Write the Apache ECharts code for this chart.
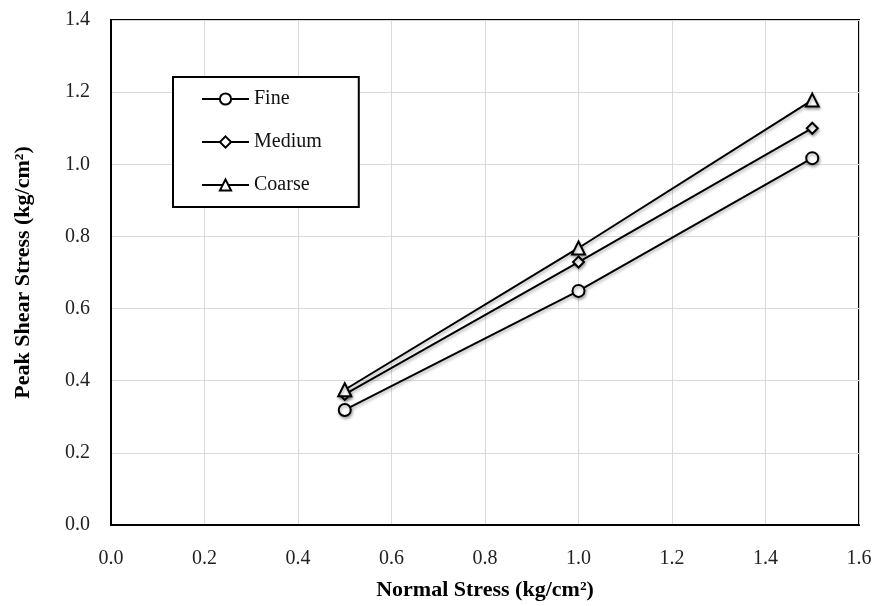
<!DOCTYPE html>
<html>
<head>
<meta charset="utf-8">
<script src="https://cdn.jsdelivr.net/npm/echarts@6/dist/echarts.min.js"></script>
<style>
  html, body { margin: 0; padding: 0; background: #fff; }
  #main { width: 875px; height: 606px; }
</style>
</head>
<body>
<div id="main"></div>
<script>
// data
const normalStress = [0.5, 1.0, 1.5];
const fine = [0.319, 0.649, 1.017];
const medium = [0.362, 0.729, 1.10];
const coarse = [0.375, 0.768, 1.178];

const FONT = 'Liberation Serif';

function pairs(ys) {
  return normalStress.map((x, i) => [x, ys[i]]);
}

function lineSeries(name, symbol, ys) {
  return {
    name: name,
    type: 'line',
    data: pairs(ys),
    symbol: symbol,
    symbolSize: symbol === 'triangle' ? 13 : (symbol === 'diamond' ? 11 : 12),
    lineStyle: {
      color: '#000', width: 2,
      shadowColor: 'rgba(0,0,0,0.3)', shadowBlur: 3, shadowOffsetX: 1, shadowOffsetY: 2
    },
    itemStyle: {
      color: '#fff', borderColor: '#000', borderWidth: 2,
      shadowColor: 'rgba(0,0,0,0.3)', shadowBlur: 3, shadowOffsetX: 1, shadowOffsetY: 2
    }
  };
}

const option = {
  animation: false,
  backgroundColor: '#fff',
  textStyle: { fontFamily: FONT },
  grid: {
    left: 111, right: 16, top: 20, bottom: 81,
    show: true, borderColor: '#000', borderWidth: 2
  },
  legend: {
    orient: 'vertical',
    left: 173,
    top: 77,
    padding: [12, 37, 12, 28],
    itemGap: 23,
    itemWidth: 47,
    itemHeight: 14,
    borderColor: '#000',
    borderWidth: 2,
    backgroundColor: '#fff',
    textStyle: { fontFamily: FONT, fontSize: 20, color: '#111' },
    data: ['Fine', 'Medium', 'Coarse']
  },
  xAxis: {
    type: 'value',
    min: 0, max: 1.6, interval: 0.2,
    name: 'Normal Stress (kg/cm²)',
    nameLocation: 'middle',
    nameGap: 54,
    nameTextStyle: { fontFamily: FONT, fontSize: 22, fontWeight: 'bold', color: '#000' },
    axisLine: { show: true, lineStyle: { color: '#000', width: 2 } },
    axisTick: { show: false },
    axisLabel: { fontFamily: FONT, fontSize: 20, color: '#222', margin: 24,
      formatter: v => v.toFixed(1) },
    splitLine: { lineStyle: { color: '#d9d9d9', width: 1 } }
  },
  yAxis: {
    type: 'value',
    min: 0, max: 1.4, interval: 0.2,
    name: 'Peak Shear Stress (kg/cm²)',
    nameLocation: 'middle',
    nameGap: 77,
    nameTextStyle: { fontFamily: FONT, fontSize: 22, fontWeight: 'bold', color: '#000' },
    axisLine: { show: true, lineStyle: { color: '#000', width: 2 } },
    axisTick: { show: false },
    axisLabel: { fontFamily: FONT, fontSize: 20, color: '#222', margin: 21,
      formatter: v => v.toFixed(1) },
    splitLine: { lineStyle: { color: '#d9d9d9', width: 1 } }
  },
  series: [
    lineSeries('Fine', 'circle', fine),
    lineSeries('Medium', 'diamond', medium),
    lineSeries('Coarse', 'triangle', coarse)
  ]
};

const myChart = echarts.init(document.getElementById('main'));
myChart.setOption(option);
</script>
</body>
</html>
